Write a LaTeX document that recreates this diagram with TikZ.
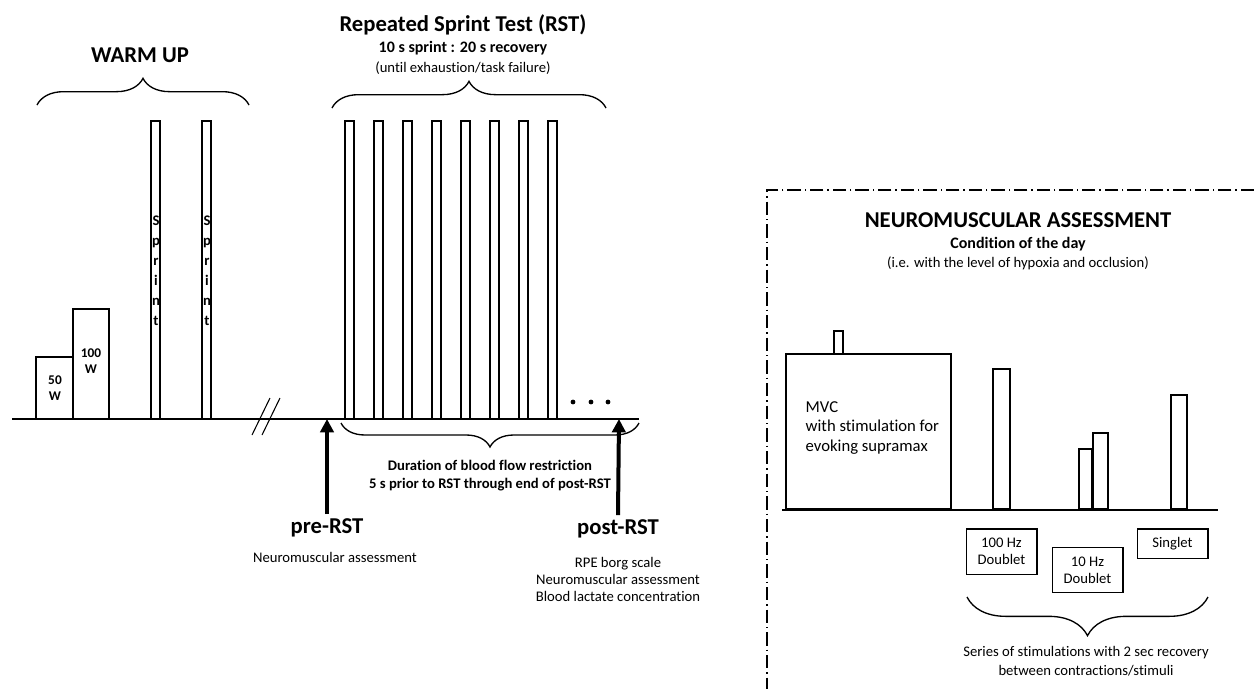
\documentclass[tikz,border=0pt]{standalone}
\usepackage{fontspec}
\setmainfont{Carlito}[Ligatures=NoCommon]
\usetikzlibrary{positioning}
\usetikzlibrary{arrows.meta}
\usetikzlibrary{decorations.pathreplacing}
\tikzset{
  bar/.style      = { draw=black, line width=1pt },
  axis/.style     = { draw=black, line width=1.6pt },
  curly/.style    = { decorate, decoration={brace, amplitude=#1}, line width=1pt },
  lowcurly/.style = { decorate, decoration={brace, mirror, amplitude=#1}, line width=1pt },
  frame/.style    = { line width=1pt, dash pattern=on 10pt off 3pt on 1pt off 3pt },
  marker/.style   = { line width=3pt, -{Triangle[length=10pt,width=10pt]} },
}
\tikzset{
  headline/.style = { font=\bfseries\fontsize{17}{20}\selectfont },
  subline/.style  = { font=\bfseries\fontsize{12}{14}\selectfont },
  boldnote/.style = { font=\bfseries\fontsize{11}{13.5}\selectfont, align=center },
  note/.style     = { font=\fontsize{11}{13}\selectfont, align=center },
  watt/.style     = { font=\bfseries\fontsize{10}{11.5}\selectfont, align=center },
  letters/.style  = { font=\bfseries\fontsize{11}{15}\selectfont, align=center, inner sep=0pt },
  stimbox/.style  = { draw, line width=1pt, minimum width=53pt, align=center,
                      font=\fontsize{11}{13}\selectfont }
}
\begin{document}
\begin{tikzpicture}[x=0.75pt,y=-0.75pt]
  \useasboundingbox (0,0) rectangle (1254,689);

  % warm up
  \node (warmup) [headline] at (140,55) {WARM UP};
  \draw [curly=20pt] (37,105) -- (249,105);
  \draw [bar] (36,357) rectangle (73,419);
  \draw [bar] (73,309) rectangle (109,419);
  \node (w50)  [watt] at (55,388) {50\\W};
  \node (w100) [watt] at (91,361) {100\\W};
  \foreach \x in {151,202} {
    \draw [bar] (\x,121) rectangle ++(9,298);
    \node [letters] at (\x+5,271) {S\\p\\r\\i\\n\\t};
  }

  % time axis with break
  \draw [axis] (12,419) -- (639,419);
  \draw [line width=0.8pt] (252,435) -- (270,398);
  \draw [line width=0.8pt] (262,435) -- (280,398);

  % repeated sprint test
  \node (rst)  [headline] at (463,25) {Repeated Sprint Test (RST)};
  \node (rate) [subline]  at (463,48) {10 s sprint : 20 s recovery};
  \node (till) [note]     at (463,68) {(until exhaustion/task failure)};
  \draw [curly=20pt] (332,108) -- (606,108);
  \foreach \i in {0,...,7}
    \draw [bar] ({345+29*\i},121) rectangle ++(9,298);
  \foreach \x in {573,591,608}
    \fill (\x,402) circle (2.4);

  % blood flow restriction
  \draw [lowcurly=18pt] (341,423) -- (639,423);
  \node (bfr) [boldnote] at (490,476) {Duration of blood flow restriction\\5 s prior to RST through end of post-RST};

  % pre and post measurements
  \coordinate (preTip)  at (327,419);
  \coordinate (postTip) at (619,419);
  \node (pre)     [headline] at (327,528) {pre-RST};
  \node (prenote) [note]     at (335,557) {Neuromuscular assessment};
  \node (post)    [headline] at (618,529) {post-RST};
  \node (postnote)[note]     at (618,579.5) {RPE borg scale\\Neuromuscular assessment\\Blood lactate concentration};
  \draw [marker] (pre.north)  -- (preTip);
  \draw [marker] (post.north) -- (postTip);

  % neuromuscular assessment
  \draw [frame] (1254,190) -- (767,190) -- (767,689);
  \node (nm)   [headline] at (1018,220) {NEUROMUSCULAR ASSESSMENT};
  \node (cond) [subline]  at (1018,244) {Condition of the day};
  \node (ie)   [note]     at (1018,263) {(i.e. with the level of hypoxia and occlusion)};

  \draw [bar] (786,354) rectangle (951,509);
  \draw [bar] (834,331) rectangle (843,354);
  \node (mvc) [anchor=west, align=left, font=\fontsize{12.5}{14.6}\selectfont]
    at (801,428) {MVC\\with stimulation for\\evoking supramax};
  \draw [bar] (993,369)  rectangle (1010,509);
  \draw [bar] (1079,449) rectangle (1092,509);
  \draw [bar] (1093,433) rectangle (1108,509);
  \draw [bar] (1171,395) rectangle (1187,509);
  \draw [axis] (782,510) -- (1218,510);

  \node (d100)    [stimbox, minimum height=34pt] at (1001.5,551.5) {100 Hz\\Doublet};
  \node (d10)     [stimbox, minimum height=34pt] at (1087.5,570)   {10 Hz\\Doublet};
  \node (singlet) [stimbox, minimum height=22pt] at (1172.5,543.5) {Singlet};

  \draw [lowcurly=29pt] (967,597) -- (1208,597);
  \node (series) [note, font=\fontsize{11}{14.25}\selectfont] at (1086,661.5)
    {Series of stimulations with 2 sec recovery\\between contractions/stimuli};
\end{tikzpicture}
\end{document}
